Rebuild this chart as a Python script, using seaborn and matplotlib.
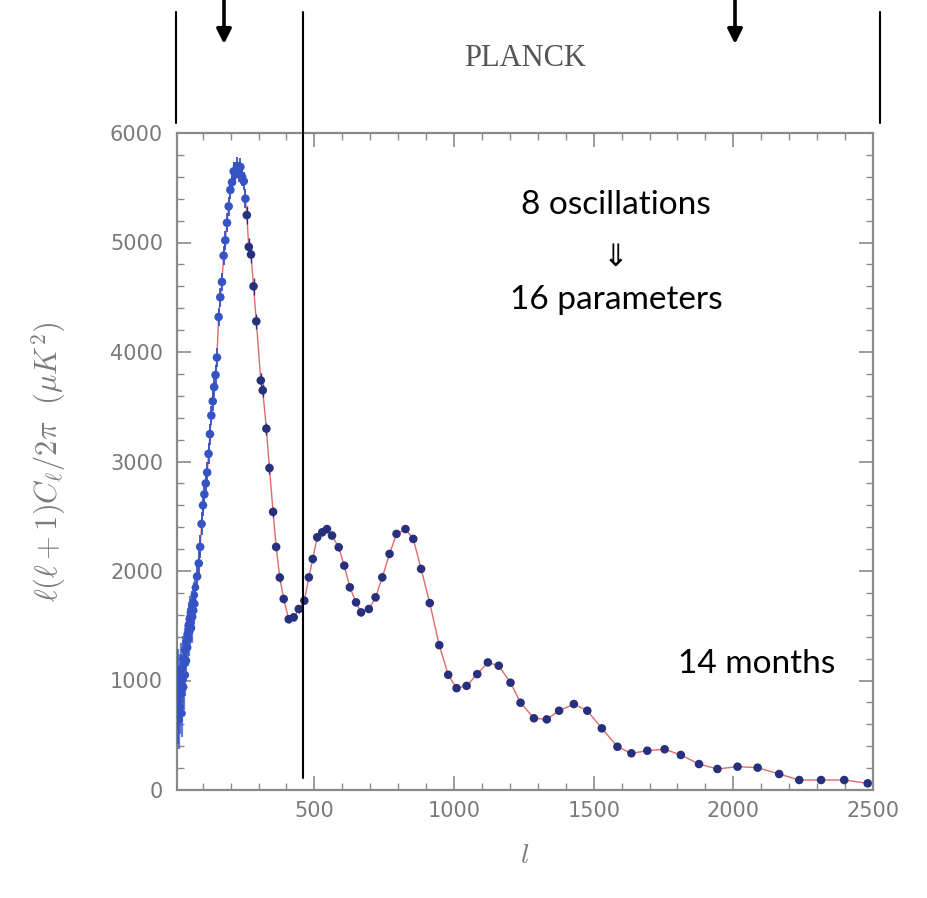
import matplotlib
matplotlib.use("Agg")
import matplotlib.pyplot as plt
from matplotlib.lines import Line2D
from matplotlib.ticker import MultipleLocator, FixedLocator
import numpy as np
import pandas as pd
import seaborn as sns

# --- unbinned low multipoles -------------------------------------------
low_l = [2, 4, 6, 8, 10, 12, 14, 16, 18, 20, 22, 24, 26, 28, 30, 32, 34, 36,
         38, 40, 42, 44, 46, 48, 50, 52, 54, 56, 58, 60, 62, 64, 66, 68, 70,
         72, 74]
low_D = [1050, 780, 650, 900, 720, 1000, 860, 640, 980, 760, 1100, 880, 700,
         1020, 1200, 940, 1150, 1280, 1050, 1350, 1180, 1420, 1300, 1500,
         1380, 1560, 1450, 1620, 1520, 1480, 1680, 1580, 1720, 1640, 1780,
         1700, 1850]
low_err = [420, 380, 350, 330, 300, 290, 280, 270, 260, 250, 240, 230, 220,
           215, 210, 205, 200, 195, 190, 185, 180, 175, 170, 165, 160, 155,
           150, 150, 145, 140, 135, 130, 130, 125, 120, 120, 115]

# --- binned band powers: rise to the first acoustic peak ----------------
rise_l = [80, 86, 91, 96, 101, 106, 111, 116, 121, 126, 131, 136, 141, 146,
          151, 157, 163, 169, 175, 181, 187, 193, 199, 205, 211, 217, 223,
          229, 235, 241, 247, 253]
rise_D = [1950, 2070, 2220, 2430, 2600, 2700, 2800, 2900, 3070, 3250, 3420,
          3550, 3680, 3790, 3950, 4320, 4500, 4640, 4880, 5020, 5180, 5330,
          5480, 5550, 5650, 5620, 5700, 5640, 5690, 5600, 5560, 5400]
rise_err = [110, 110, 105, 105, 100, 100, 100, 95, 95, 95, 90, 90, 90, 90, 90,
            85, 85, 85, 85, 85, 85, 85, 85, 85, 85, 85, 85, 85, 85, 85, 85, 85]

# --- binned band powers: higher acoustic peaks and damping tail ---------
tail_l = [258, 265, 273, 282, 292, 308, 315, 328, 339, 352, 363, 376, 390,
          408, 426, 444, 464, 480, 494, 510, 528, 545, 563, 587, 607, 627,
          649, 667, 695, 719, 743, 769, 794, 826, 854, 882, 913, 947, 979,
          1009, 1045, 1083, 1121, 1160, 1202, 1238, 1286, 1332, 1376, 1429,
          1477, 1529, 1585, 1635, 1692, 1754, 1812, 1877, 1943, 2015, 2087,
          2164, 2236, 2314, 2397, 2481]
tail_D = [5250, 4960, 4890, 4600, 4280, 3740, 3650, 3300, 2940, 2540, 2220,
          1940, 1745, 1560, 1577, 1653, 1729, 1942, 2110, 2308, 2354, 2383,
          2324, 2217, 2049, 1851, 1714, 1622, 1653, 1760, 1942, 2156, 2339,
          2383, 2293, 2019, 1707, 1323, 1052, 930, 951, 1058, 1165, 1135, 980,
          797, 655, 645, 724, 785, 724, 563, 395, 335, 359, 372, 320, 237, 192,
          213, 204, 146, 91, 91, 91, 61]
tail_err = [80, 80, 75, 75, 70, 65, 60, 55, 50, 45, 40, 38, 36, 34, 34, 34,
            34, 34, 34, 34, 34, 34, 34, 32, 32, 30, 30, 30, 30, 30, 30, 30, 30,
            30, 30, 28, 26, 24, 22, 22, 22, 22, 22, 22, 20, 20, 18, 18, 18, 18,
            18, 16, 16, 16, 16, 16, 16, 16, 16, 16, 16, 16, 16, 16, 16, 16]

# --- best-fit model at the lowest multipoles ----------------------------
model_low_l = [2, 10, 20, 30, 40, 50, 60, 70]
model_low_D = [1000, 880, 920, 1030, 1180, 1360, 1560, 1780]

x_ticks = [500, 1000, 1500, 2000, 2500]
y_ticks = [0, 1000, 2000, 3000, 4000, 5000, 6000]

W, H = 928, 898
sns.set_theme(style="white")
plt.rcParams["mathtext.fontset"] = "cm"

fig = plt.figure(figsize=(W / 100, H / 100), dpi=100)
ax = fig.add_axes([177 / W, 1 - 790 / H, 696 / W, 657 / H])

gray = "#8a8a8a"
light_blue = "#3553c4"
navy = "#26307c"

model = pd.DataFrame({
    "l": model_low_l + rise_l + tail_l,
    "D": model_low_D + rise_D + tail_D,
})
sns.lineplot(data=model, x="l", y="D", ax=ax, color="#e36a6a", lw=1.0,
             estimator=None, sort=True, zorder=2)

low = pd.DataFrame({"l": low_l, "D": low_D, "err": low_err})
rise = pd.DataFrame({"l": rise_l, "D": rise_D, "err": rise_err})
tail = pd.DataFrame({"l": tail_l, "D": tail_D, "err": tail_err})

ax.errorbar(low["l"], low["D"], yerr=low["err"], fmt="none",
            ecolor=light_blue, elinewidth=1.6, alpha=0.75, zorder=3)
ax.errorbar(rise["l"], rise["D"], yerr=rise["err"], fmt="none",
            ecolor=light_blue, elinewidth=1.3, zorder=3)
ax.errorbar(tail["l"], tail["D"], yerr=tail["err"], fmt="none",
            ecolor=navy, elinewidth=1.0, zorder=3)

sns.scatterplot(data=low, x="l", y="D", ax=ax, color=light_blue, s=30,
                edgecolor="none", zorder=4)
sns.scatterplot(data=rise, x="l", y="D", ax=ax, color=light_blue, s=38,
                edgecolor="none", zorder=4)
sns.scatterplot(data=tail, x="l", y="D", ax=ax, color=navy, s=38,
                edgecolor="none", zorder=4)

ax.set_xlim(8, 2500)
ax.set_ylim(0, 6000)
ax.xaxis.set_major_locator(FixedLocator(x_ticks))
ax.xaxis.set_minor_locator(MultipleLocator(100))
ax.yaxis.set_major_locator(FixedLocator(y_ticks))
ax.yaxis.set_minor_locator(MultipleLocator(200))

for side in ax.spines.values():
    side.set_color(gray)
    side.set_linewidth(1.6)

ax.tick_params(which="both", direction="in", top=True, right=True,
               bottom=True, left=True, color=gray)
ax.tick_params(which="major", length=10, width=1.2)
ax.tick_params(which="minor", length=5, width=1.0)
ax.tick_params(axis="y", which="major", labelsize=15, labelcolor="#7a7a7a",
               pad=10)
ax.tick_params(axis="x", which="major", labelsize=15, labelcolor="#7a7a7a",
               pad=8)

ax.set_xlabel(r"$l$", fontsize=20, color="#7a7a7a", labelpad=14)
ax.set_ylabel(r"$\ell(\ell+1)C_\ell/2\pi\ \ (\mu K^2)$", fontsize=22,
              color="#7a7a7a", labelpad=30)

# --- overlaid annotations ------------------------------------------------
fig.text(525 / W, 1 - 58 / H, "PLANCK", ha="center", va="center",
         fontsize=22, color="#555555", family="Liberation Serif")

txt_font = ["Lato", "DejaVu Sans"]
fig.text(616 / W, 1 - 205 / H, "8 oscillations", ha="center", va="center",
         fontsize=24, color="black", family=txt_font)
fig.text(615 / W, 1 - 257 / H, "\u21d3", ha="center", va="center",
         fontsize=22, color="black", family=["DejaVu Sans"])
fig.text(616 / W, 1 - 300 / H, "16 parameters", ha="center", va="center",
         fontsize=24, color="black", family=txt_font)
fig.text(757 / W, 1 - 664 / H, "14 months", ha="center", va="center",
         fontsize=24, color="black", family=txt_font)


def vline(px, py0, py1, lw=1.5):
    fig.add_artist(Line2D([px / W, px / W], [1 - py0 / H, 1 - py1 / H],
                          transform=fig.transFigure, color="black", lw=lw,
                          zorder=10))


vline(176, 12, 123)
vline(303, 12, 778)
vline(880, 12, 123)

for px in (224, 735):
    ax.annotate("", xy=(px, H - 44), xytext=(px, H),
                xycoords="figure pixels", textcoords="figure pixels",
                arrowprops=dict(arrowstyle="-|>", lw=2.6, color="black",
                                mutation_scale=22, shrinkA=0, shrinkB=0),
                annotation_clip=False)

fig.savefig("out.png", dpi=100, facecolor="white")
